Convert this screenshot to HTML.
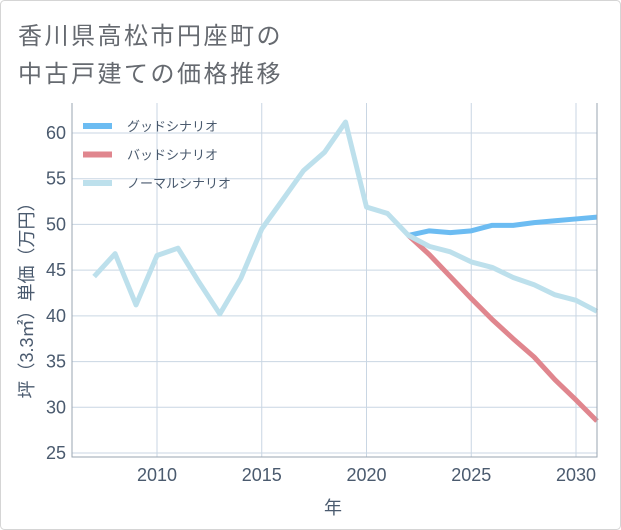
<!DOCTYPE html>
<html><head><meta charset="utf-8"><style>
html,body{margin:0;padding:0;background:#fff;}
#wrap{position:relative;width:621px;height:530px;overflow:hidden;}
.title{position:absolute;left:18px;font:24px "Liberation Sans","Noto Sans CJK JP",sans-serif;color:#666a70;letter-spacing:2.5px;white-space:nowrap;}
svg text{font-family:"Liberation Sans","Noto Sans CJK JP",sans-serif;}
</style></head><body>
<div id="wrap">
<svg width="621" height="530" style="position:absolute;left:0;top:0">
<rect x="0.5" y="0.5" width="620" height="529" rx="4" fill="#fff" stroke="#d5d5d5"/>
<g id="grid"></g><g id="series"></g><g id="axes"></g>
</svg>
<div class="title" style="top:16px">香川県高松市円座町の</div>
<div class="title" style="top:54px">中古戸建ての価格推移</div>
</div>
<script>
const years=[2007,2008,2009,2010,2011,2012,2013,2014,2015,2016,2017,2018,2019,2020,2021,2022,2023,2024,2025,2026,2027,2028,2029,2030,2031];
const normal=[44.3,46.8,41.2,46.6,47.4,43.7,40.2,44.1,49.5,52.7,55.9,57.9,61.2,51.9,51.2,48.8,47.6,47.0,45.9,45.3,44.2,43.4,42.3,41.7,40.5];
const fYears=[2022,2023,2024,2025,2026,2027,2028,2029,2030,2031];
const good=[48.8,49.3,49.1,49.3,49.9,49.9,50.2,50.4,50.6,50.8];
const bad=[48.8,46.7,44.3,41.9,39.6,37.5,35.5,33.0,30.8,28.5];
const xTicks=[2010,2015,2020,2025,2030];
const yTicks=[25,30,35,40,45,50,55,60];
const L=72,R=597,T=103,B=457;
const x=v=>157+(v-2010)*20.95;
const y=v=>453-(v-25)*9.143;
const NS='http://www.w3.org/2000/svg';
function mk(tag,attrs,parent){const e=document.createElementNS(NS,tag);for(const k in attrs)e.setAttribute(k,attrs[k]);parent.appendChild(e);return e;}
const grid=document.getElementById('grid'),ser=document.getElementById('series'),ax=document.getElementById('axes');
xTicks.forEach(t=>{
 const l=mk('line',{x1:x(t),x2:x(t),y1:T,y2:B,stroke:'#c9d6e3','stroke-width':1},grid);
 
 const tx=mk('text',{x:x(t),y:481,'text-anchor':'middle','font-size':18,fill:'#4a5a6e'},ax);tx.textContent=t;
 
});
yTicks.forEach(t=>{
 const l=mk('line',{x1:L,x2:R,y1:y(t),y2:y(t),stroke:'#c9d6e3','stroke-width':1},grid);
 
 const tx=mk('text',{x:66,y:y(t)+6,'text-anchor':'end','font-size':18,fill:'#4a5a6e'},ax);tx.textContent=t;
 
});
const fr=mk('path',{d:`M${L},${T}V${B}H${R}V${T}`,fill:'none',stroke:'#9aa6b2','stroke-width':1},ax);

function line(xs,ys,color,name){
 const p=mk('polyline',{points:xs.map((v,i)=>x(v)+','+y(ys[i])).join(' '),fill:'none',stroke:color,'stroke-width':5,'stroke-linejoin':'round'},ser);
 
}
line(fYears,bad,'#e0868e','bad-scenario-line');
line(fYears,good,'#6cbcf2','good-scenario-line');
line(years,normal,'#bde0ec','normal-scenario-line');
const leg=[['グッドシナリオ','#6cbcf2'],['バッドシナリオ','#e0868e'],['ノーマルシナリオ','#bde0ec']];
leg.forEach((d,i)=>{
 const yy=126+i*28.5;
 const s=mk('line',{x1:83,x2:112,y1:yy,y2:yy,stroke:d[1],'stroke-width':6},ax);
 
 const t=mk('text',{x:127,y:yy+5,'font-size':13,fill:'#4a5a6e'},ax);t.textContent=d[0];
 
});
const xt=mk('text',{x:333,y:514,'text-anchor':'middle','font-size':18,fill:'#4a5a6e'},ax);xt.textContent='年';

const yt=mk('text',{x:0,y:0,'text-anchor':'middle','font-size':18,fill:'#4a5a6e',transform:'translate(33,296) rotate(-90)'},ax);yt.textContent='坪（3.3㎡）単価（万円）';

</script>
</body></html>
